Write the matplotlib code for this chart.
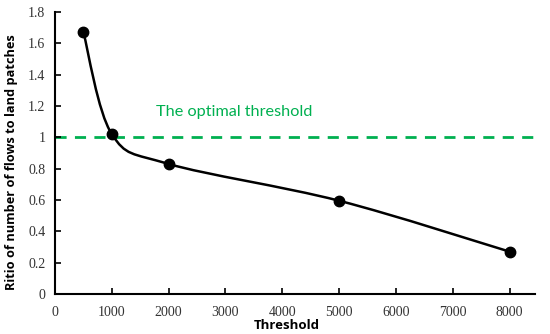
import numpy as np
import matplotlib
matplotlib.use("Agg")
import matplotlib.pyplot as plt
from matplotlib.path import Path
from matplotlib.patches import PathPatch

thresholds = [500, 1000, 2000, 5000, 8000]
ratios = [1.67, 1.02, 0.83, 0.595, 0.27]
optimal_ratio = 1.0
x_ticks = [0, 1000, 2000, 3000, 4000, 5000, 6000, 7000, 8000]
y_ticks = [0, 0.2, 0.4, 0.6, 0.8, 1.0, 1.2, 1.4, 1.6, 1.8]
y_tick_labels = ["0", "0.2", "0.4", "0.6", "0.8", "1", "1.2", "1.4", "1.6", "1.8"]


def smooth_path(ax, xs, ys):
    # Excel-style smoothed line: Catmull-Rom as cubic Bezier, built in display space
    pts = ax.transData.transform(np.column_stack([xs, ys]))
    verts = [pts[0]]
    codes = [Path.MOVETO]
    n = len(pts)
    for i in range(n - 1):
        p0 = pts[i - 1] if i > 0 else pts[i]
        p1 = pts[i]
        p2 = pts[i + 1]
        p3 = pts[i + 2] if i + 2 < n else pts[i + 1]
        c1 = p1 + (p2 - p0) / 6.0
        c2 = p2 - (p3 - p1) / 6.0
        verts += [c1, c2, p2]
        codes += [Path.CURVE4] * 3
    return Path(verts, codes)


fig = plt.figure(figsize=(5.5, 3.34), dpi=100)
ax = fig.add_axes([0.1, 0.12, 0.873, 0.844])
ax.set_xlim(0, 8450)
ax.set_ylim(0, 1.8)

ax.axhline(optimal_ratio, color="#00B050", lw=2, ls=(0, (4, 3)), zorder=1)
ax.text(1770, 1.16, "The optimal threshold", color="#00B050",
        fontsize=11.7, family="Lato", va="center", ha="left")

fig.canvas.draw()
path = smooth_path(ax, thresholds, ratios)
ax.add_patch(PathPatch(path, transform=None, fill=False, edgecolor="black",
                       lw=1.8, zorder=2))
ax.plot(thresholds, ratios, "o", color="black", markersize=7.5, zorder=3)

ax.set_xticks(x_ticks)
ax.set_yticks(y_ticks)
ax.set_yticklabels(y_tick_labels)
for lab in ax.get_xticklabels() + ax.get_yticklabels():
    lab.set_family("Liberation Serif")
    lab.set_fontsize(10)
    lab.set_color("#333333")
ax.tick_params(direction="in", length=4, width=1.2)
ax.tick_params(axis="x", pad=9)
ax.tick_params(axis="y", pad=7)

ax.spines["top"].set_visible(False)
ax.spines["right"].set_visible(False)
for s in ("left", "bottom"):
    ax.spines[s].set_linewidth(1.5)

ax.set_xlabel("Threshold", fontsize=9.5, fontweight="bold", family="Open Sans")
ax.set_ylabel("Ritio of number of flows to land patches", fontsize=9.2,
              fontweight="bold", family="Open Sans")
ax.xaxis.set_label_coords(0.483, -0.09)
ax.yaxis.set_label_coords(-0.077, 0.468)

fig.savefig("out.png", dpi=100)
